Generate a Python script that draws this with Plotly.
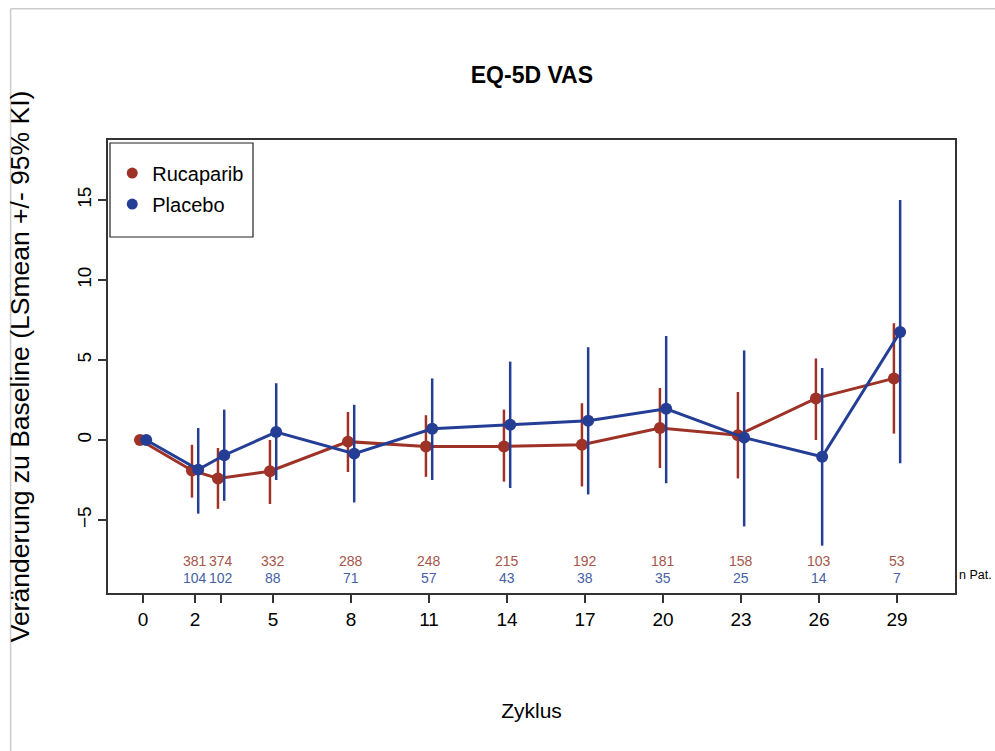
import plotly.graph_objects as go

# Visits (treatment cycles) and LS-mean change from baseline with 95% CI
cycles = [0, 2, 3, 5, 8, 11, 14, 17, 20, 23, 26, 29]

ruca_mean = [0.0, -1.9, -2.4, -1.95, -0.1, -0.4, -0.4, -0.3, 0.75, 0.3, 2.6, 3.85]
ruca_upper = [0.0, -0.3, -0.5, 0.0, 1.75, 1.55, 1.9, 2.3, 3.25, 3.0, 5.1, 7.3]
ruca_lower = [0.0, -3.6, -4.3, -4.0, -2.0, -2.3, -2.6, -2.9, -1.75, -2.4, 0.0, 0.4]

plac_mean = [0.0, -1.85, -0.95, 0.5, -0.85, 0.7, 0.95, 1.2, 1.95, 0.15, -1.05, 6.75]
plac_upper = [0.0, 0.75, 1.9, 3.55, 2.2, 3.85, 4.9, 5.8, 6.5, 5.6, 4.5, 15.0]
plac_lower = [0.0, -4.6, -3.8, -2.5, -3.9, -2.5, -3.0, -3.4, -2.7, -5.4, -6.6, -1.45]

# Number of patients per visit
n_cycles = [2, 3, 5, 8, 11, 14, 17, 20, 23, 26, 29]
ruca_n = [381, 374, 332, 288, 248, 215, 192, 181, 158, 103, 53]
plac_n = [104, 102, 88, 71, 57, 43, 38, 35, 25, 14, 7]

tick_vals = [0, 2, 3, 5, 8, 11, 14, 17, 20, 23, 26, 29]
tick_text = ["0", "2", "", "5", "8", "11", "14", "17", "20", "23", "26", "29"]

RED = "rgb(158,50,38)"
BLUE = "rgb(36,62,150)"
RED_TXT = "rgb(165,85,75)"
BLUE_TXT = "rgb(70,95,165)"
dodge = 0.12

fig = go.Figure()


def add_series(mean, upper, lower, color, offset):
    xs = [c + offset for c in cycles]
    fig.add_trace(go.Scatter(
        x=xs, y=mean, mode="lines+markers",
        line=dict(color=color, width=3),
        marker=dict(color=color, size=12),
        error_y=dict(type="data", symmetric=False,
                     array=[u - m for u, m in zip(upper, mean)],
                     arrayminus=[m - l for m, l in zip(mean, lower)],
                     color=color, thickness=2.5, width=0),
        showlegend=False, hoverinfo="skip",
    ))


add_series(ruca_mean, ruca_upper, ruca_lower, RED, -dodge)
add_series(plac_mean, plac_upper, plac_lower, BLUE, dodge)

# legend entries (points only)
for name, color in [("Rucaparib", RED), ("Placebo", BLUE)]:
    fig.add_trace(go.Scatter(x=[None], y=[None], mode="markers", name=name,
                             legendgroup=name,
                             marker=dict(color=color, size=11)))

annotations = []
for c, r, p in zip(n_cycles, ruca_n, plac_n):
    annotations.append(dict(x=c, y=-7.55, xref="x", yref="y", text=str(r),
                            showarrow=False, font=dict(size=14, color=RED_TXT,
                                                       family="Liberation Sans")))
    annotations.append(dict(x=c, y=-8.65, xref="x", yref="y", text=str(p),
                            showarrow=False, font=dict(size=14, color=BLUE_TXT,
                                                       family="Liberation Sans")))
annotations.append(dict(x=1.002, y=-8.45, xref="paper", yref="y", text="n Pat.",
                        xanchor="left", showarrow=False,
                        font=dict(size=12.5, color="black", family="Liberation Sans")))

fig.update_layout(
    width=995, height=751,
    margin=dict(l=108, r=40, t=140, b=158),
    paper_bgcolor="white", plot_bgcolor="white",
    font=dict(family="Liberation Sans, Arial", color="black"),
    title=dict(text="<b>EQ-5D VAS</b>", x=0.5346, xanchor="center",
               y=0.9, yanchor="middle", font=dict(size=23)),
    xaxis=dict(range=[-1.35, 31.23], tickvals=tick_vals, ticktext=tick_text,
               showgrid=False, zeroline=False, showline=True, mirror=True,
               linecolor="#333", linewidth=1.5, ticks="outside", ticklen=8,
               tickwidth=1.5, tickcolor="#333", tickfont=dict(size=19),
               title=dict(text="Zyklus", font=dict(size=21), standoff=75)),
    yaxis=dict(range=[-9.56, 18.75], tickvals=[-5, 0, 5, 10, 15],
               showgrid=False, zeroline=False, showline=True, mirror=True,
               linecolor="#333", linewidth=1.5, ticks="outside", ticklen=8,
               tickwidth=1.5, tickcolor="#333", tickfont=dict(size=19),
               tickangle=-90,
               title=dict(text="Veränderung zu Baseline (LSmean +/- 95% KI)",
                          font=dict(size=26.5), standoff=36)),
    legend=dict(x=0.005, y=0.970, xanchor="left", yanchor="top",
                borderwidth=0, bgcolor="rgba(0,0,0,0)",
                tracegroupgap=2, font=dict(size=20)),
    annotations=annotations,
    shapes=[
        # legend frame
        dict(type="rect", xref="paper", yref="paper",
             x0=2 / 847, x1=(253 - 108) / 847, y0=(593 - 237) / 453,
             y1=(593 - 143) / 453,
             fillcolor="white", line=dict(color="#222", width=1.2), layer="above"),
        # outer frame
        dict(type="line", xref="paper", yref="paper", x0=-0.115, x1=1.05,
             y0=1.29, y1=1.29, line=dict(color="#cccccc", width=1.5)),
        dict(type="line", xref="paper", yref="paper", x0=-0.115, x1=-0.115,
             y0=1.29, y1=-0.36, line=dict(color="#cccccc", width=1.5)),
    ],
)

fig.write_html("out.html")
